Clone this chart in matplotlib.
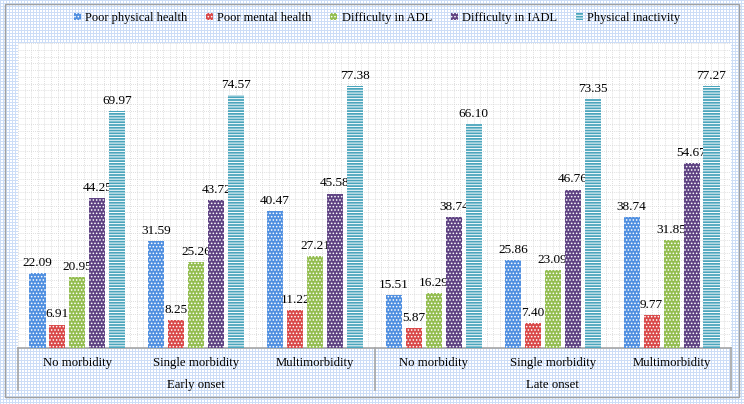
import numpy as np
import matplotlib
matplotlib.use('Agg')
import matplotlib.pyplot as plt
from matplotlib.patches import Rectangle, Patch
from matplotlib.lines import Line2D
from matplotlib.ticker import MultipleLocator

plt.rcParams['font.family'] = ['Liberation Serif', 'DejaVu Serif']
plt.rcParams['hatch.linewidth'] = 0.7

# categories
morbidity = ['No morbidity', 'Single morbidity', 'Multimorbidity'] * 2
onset = ['Early onset', 'Late onset']
series = ['Poor physical health', 'Poor mental health', 'Difficulty in ADL',
          'Difficulty in IADL', 'Physical inactivity']

# values (%)
phys = [22.09, 31.59, 40.47, 15.51, 25.86, 38.74]
mental = [6.91, 8.25, 11.22, 5.87, 7.40, 9.77]
adl = [20.95, 25.26, 27.21, 16.29, 23.09, 31.85]
iadl = [44.25, 43.72, 45.58, 38.74, 46.76, 54.67]
inact = [69.97, 74.57, 77.38, 66.10, 73.35, 77.27]

colors = ['#4f8fe0', '#d94848', '#93bd4f', '#5e4282', '#4aa5bc']
hatches = ['.....', '.....', '.....', '.....', '------']

W, H = 744, 404
fig = plt.figure(figsize=(W / 100, H / 100), dpi=100)

# blue grid pattern background (chart area fill)
bg = np.ones((H, W, 3))
line = np.array([0.80, 0.87, 0.97])
bg[::3, :, :] = line
bg[:, ::3, :] = line
fig.figimage(bg, xo=0, yo=0, origin='upper', zorder=-10)

ax = fig.add_axes([18 / W, (H - 348) / H, (731 - 18) / W, (348 - 43) / H])
ax.set_facecolor('white')

x = np.arange(len(morbidity))
step = 0.168
width = 0.135
allvals = [phys, mental, adl, iadl, inact]
for k, vals in enumerate(allvals):
    pos = x + (k - 2) * step
    bars = ax.bar(pos, vals, width, color=colors[k], hatch=hatches[k],
                  edgecolor='white', linewidth=0, zorder=3)
    for b, v in zip(bars, vals):
        ax.annotate('%.2f' % v, (b.get_x() + b.get_width() / 2, v),
                    xytext=(0, 3), textcoords='offset points',
                    ha='center', va='bottom', fontsize=9.5, color='black')

ax.set_xlim(-0.5, 5.5)
ax.set_ylim(0, 90)

# dotted plot-area grid
ax.xaxis.set_minor_locator(MultipleLocator(1 / 18))
ax.yaxis.set_minor_locator(MultipleLocator(2))
ax.grid(which='minor', color='#d4d4d4', linestyle=(0, (1, 1.5)), linewidth=0.6, zorder=0)
ax.set_axisbelow(True)
ax.set_xticks([])
ax.set_yticks([])
ax.tick_params(which='both', length=0)
for s in ['top', 'left', 'right']:
    ax.spines[s].set_visible(False)
ax.spines['bottom'].set_color('#a6a6a6')
ax.spines['bottom'].set_linewidth(1.2)

# two-level category axis
trans = ax.get_xaxis_transform()
for i, name in enumerate(morbidity):
    ax.text(i, -0.049, name, transform=trans, ha='center', va='center',
            fontsize=9.2, color='black')
for j, name in enumerate(onset):
    ax.text(3 * j + 1, -0.121, name, transform=trans, ha='center', va='center',
            fontsize=9.2, color='black')
for xs in [-0.5, 2.5, 5.5]:
    ax.add_line(Line2D([xs, xs], [0, -0.138], transform=trans, color='#a6a6a6',
                       linewidth=1.2, clip_on=False))

# legend
handles = [Patch(facecolor=colors[k], hatch=hatches[k], edgecolor='white',
                 linewidth=0) for k in range(5)]
fig.legend(handles, series, loc='center', bbox_to_anchor=(377 / W, 1 - 18 / H),
           ncol=5, frameon=False, fontsize=9, handlelength=0.55,
           handleheight=0.55, handletextpad=0.35, columnspacing=1.5)

# outer border
fig.add_artist(Rectangle((5 / W, (H - 397) / H), 734 / W, 393 / H,
                         transform=fig.transFigure, fill=False,
                         edgecolor='#a0a0a0', linewidth=1.0))

fig.savefig('out.png', dpi=100)
